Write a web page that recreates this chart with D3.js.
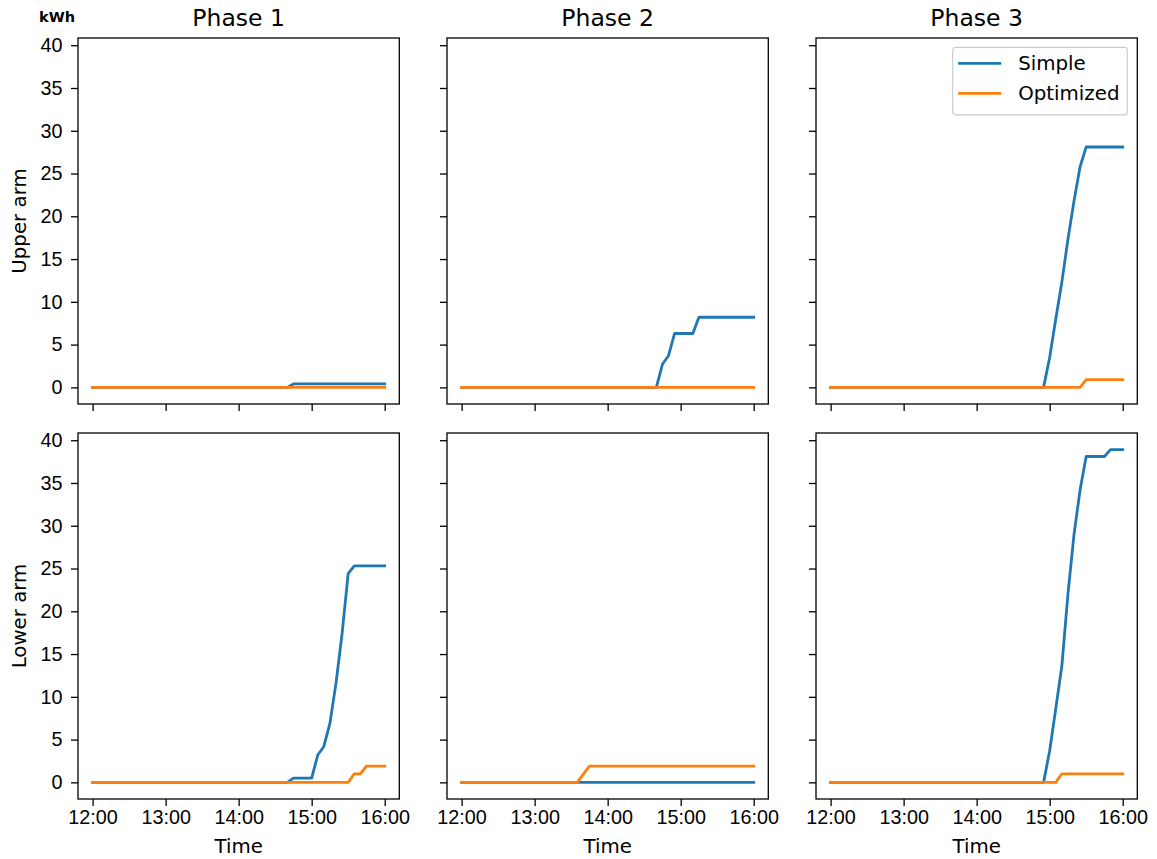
<!DOCTYPE html>
<html>
<head>
<meta charset="utf-8">
<script src="https://cdnjs.cloudflare.com/ajax/libs/d3/7.8.5/d3.min.js"></script>
<style>
  html, body { margin: 0; padding: 0; background: #fff; }
  svg { display: block; font-family: "DejaVu Sans", sans-serif; }
  .domain { stroke: #000; }
  .tick line { stroke: #000; }
  .tick text { fill: #000; }
</style>
</head>
<body>
<div id="chart"></div>
<script>
// energy per arm and phase, simple vs optimized charging

const phases = ['Phase 1', 'Phase 2', 'Phase 3'];
const arms = ['Upper arm', 'Lower arm'];
const seriesNames = ['Simple', 'Optimized'];
const seriesColors = ['#1f77b4', '#ff7f0e'];
const yTicks = [0, 5, 10, 15, 20, 25, 30, 35, 40];
const xTicks = ['12:00', '13:00', '14:00', '15:00', '16:00'];
const timeStart = '12:00';
const timeEnd = '16:00';

// [time, kWh] break points, one list per phase
const upperSimple = [
    [['12:00', 0], ['14:40', 0], ['14:45', 0.4], ['16:00', 0.4]],
    [['12:00', 0], ['14:40', 0], ['14:45', 2.7], ['14:50', 3.7], ['14:55', 6.3], ['15:10', 6.3], ['15:15', 8.2], ['16:00', 8.2]],
    [['12:00', 0], ['14:55', 0], ['15:00', 3.5], ['15:05', 8.0], ['15:10', 12.3], ['15:15', 17.3], ['15:20', 21.8], ['15:25', 25.8], ['15:30', 28.1], ['16:00', 28.1]]
];
const upperOptimized = [
    [['12:00', 0], ['16:00', 0]],
    [['12:00', 0], ['16:00', 0]],
    [['12:00', 0], ['15:25', 0], ['15:30', 0.9], ['16:00', 0.9]]
];
const lowerSimple = [
    [['12:00', 0], ['14:40', 0], ['14:45', 0.5], ['15:00', 0.5], ['15:05', 3.2], ['15:10', 4.2], ['15:15', 6.9], ['15:20', 11.6], ['15:25', 17.4], ['15:30', 24.4], ['15:35', 25.3], ['16:00', 25.3]],
    [['12:00', 0], ['16:00', 0]],
    [['12:00', 0], ['14:55', 0], ['15:00', 3.7], ['15:05', 8.6], ['15:10', 13.6], ['15:15', 22.0], ['15:20', 29.0], ['15:25', 34.2], ['15:30', 38.1], ['15:45', 38.1], ['15:50', 38.9], ['16:00', 38.9]]
];
const lowerOptimized = [
    [['12:00', 0], ['15:30', 0], ['15:35', 1.0], ['15:40', 1.0], ['15:45', 1.9], ['16:00', 1.9]],
    [['12:00', 0], ['13:35', 0], ['13:45', 1.9], ['16:00', 1.9]],
    [['12:00', 0], ['15:05', 0], ['15:10', 1.0], ['16:00', 1.0]]
];

const width = 1157, height = 859;
const layout = {
    left: 78, top: 38,
    panelW: 321.3, panelH: 366,
    colGap: 47.7, rowGap: 29,
    lineWidth: 2.8, spineWidth: 1.3,
    tickLen: 7,
    fontSize: 19.8, titleSize: 23.5
};

const parseTime = d3.timeParse('%H:%M');
const fmtTime = d3.timeFormat('%H:%M');

const rows = [
    { simple: upperSimple, optimized: upperOptimized },
    { simple: lowerSimple, optimized: lowerOptimized }
];

// shared axes with matplotlib style 5% margins
const t0 = parseTime(timeStart), t1 = parseTime(timeEnd);
const tPad = (t1 - t0) * 0.05;
const x = d3.scaleTime()
    .domain([new Date(+t0 - tPad), new Date(+t1 + tPad)])
    .range([0, layout.panelW]);

const allValues = rows.flatMap(r => [...r.simple, ...r.optimized]).flat().map(p => p[1]);
const yMin = d3.min(allValues), yMax = d3.max(allValues);
const yPad = (yMax - yMin) * 0.05;
const y = d3.scaleLinear()
    .domain([yMin - yPad, yMax + yPad])
    .range([layout.panelH, 0]);

const line = d3.line()
    .x(p => x(parseTime(p[0])))
    .y(p => y(p[1]));

const svg = d3.select('#chart').append('svg')
    .attr('width', width)
    .attr('height', height);

// kWh unit label
svg.append('text')
    .attr('x', 39)
    .attr('y', 22)
    .attr('font-size', 14.5)
    .attr('font-weight', 'bold')
    .text('kWh');

rows.forEach((row, ri) => {
    const py = layout.top + ri * (layout.panelH + layout.rowGap);

    // row label
    svg.append('text')
        .attr('transform', `translate(25.5,${py + layout.panelH / 2}) rotate(-90)`)
        .attr('text-anchor', 'middle')
        .attr('font-size', layout.fontSize)
        .text(arms[ri]);

    phases.forEach((phase, ci) => {
        const px = layout.left + ci * (layout.panelW + layout.colGap);
        const g = svg.append('g').attr('transform', `translate(${px},${py})`);

        if (ri === 0) {
            svg.append('text')
                .attr('x', px + layout.panelW / 2)
                .attr('y', 25.5)
                .attr('text-anchor', 'middle')
                .attr('font-size', layout.titleSize)
                .text(phase);
        }

        // series lines
        [row.simple[ci], row.optimized[ci]].forEach((pts, si) => {
            g.append('path')
                .datum(pts)
                .attr('d', line)
                .attr('fill', 'none')
                .attr('stroke', seriesColors[si])
                .attr('stroke-width', layout.lineWidth)
                .attr('stroke-linejoin', 'round')
                .attr('stroke-linecap', 'square');
        });

        // axes
        const yAxis = d3.axisLeft(y)
            .tickValues(yTicks)
            .tickSize(layout.tickLen)
            .tickPadding(8.5)
            .tickFormat(ci === 0 ? d3.format('d') : () => '');
        const xAxis = d3.axisBottom(x)
            .tickValues(xTicks.map(parseTime))
            .tickSize(layout.tickLen)
            .tickPadding(4)
            .tickFormat(ri === 1 ? fmtTime : () => '');

        g.append('g').call(yAxis)
            .call(a => a.select('.domain').remove())
            .selectAll('text').attr('font-size', layout.fontSize).attr('font-family', null);
        g.append('g').attr('transform', `translate(0,${layout.panelH})`).call(xAxis)
            .call(a => a.select('.domain').remove())
            .selectAll('text').attr('font-size', layout.fontSize).attr('font-family', null);
        g.selectAll('.tick line').attr('stroke-width', layout.spineWidth);

        // frame
        g.append('rect')
            .attr('width', layout.panelW)
            .attr('height', layout.panelH)
            .attr('fill', 'none')
            .attr('stroke', '#000')
            .attr('stroke-width', layout.spineWidth);

        if (ri === 1) {
            svg.append('text')
                .attr('x', px + layout.panelW / 2)
                .attr('y', 853)
                .attr('text-anchor', 'middle')
                .attr('font-size', layout.fontSize)
                .text('Time');
        }

        // legend in the top right panel
        if (ri === 0 && ci === 2) {
            const lg = g.append('g').attr('transform', `translate(${952.7 - px},${47.3 - py})`);
            lg.append('rect')
                .attr('width', 174.6)
                .attr('height', 67.5)
                .attr('rx', 3)
                .attr('fill', '#fff')
                .attr('fill-opacity', 0.8)
                .attr('stroke', '#cccccc')
                .attr('stroke-width', 1.2);
            seriesNames.forEach((name, si) => {
                const ly = 16 + si * 30;
                lg.append('line')
                    .attr('x1', 5.5).attr('x2', 48.5)
                    .attr('y1', ly).attr('y2', ly)
                    .attr('stroke', seriesColors[si])
                    .attr('stroke-width', layout.lineWidth);
                lg.append('text')
                    .attr('x', 65.5)
                    .attr('y', ly)
                    .attr('dy', '0.35em')
                    .attr('font-size', layout.fontSize)
                    .text(name);
            });
        }
    });
});
</script>
</body>
</html>
